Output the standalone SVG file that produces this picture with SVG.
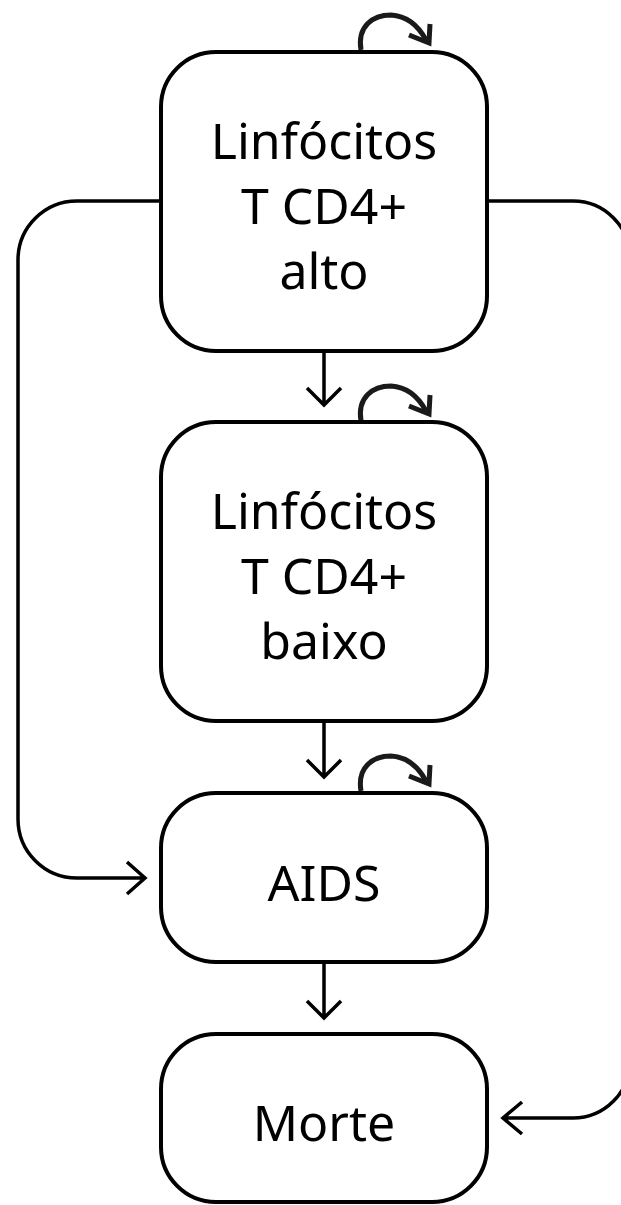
<svg xmlns="http://www.w3.org/2000/svg" width="621" height="1205" viewBox="0 0 621 1205">
<style>
.box{fill:#fff;stroke:#000;stroke-width:4}
.lbl{font-family:"Noto Sans","Open Sans",sans-serif;font-size:50px;fill:#000;text-anchor:middle}
.con{fill:none;stroke:#000;stroke-width:3.5;stroke-linejoin:miter}
.loop{fill:none;stroke:#1a1a1a;stroke-width:5;stroke-linecap:butt}
</style>
<defs>
<g id="selfloop">
<path class="loop" d="M361,50 C357,26 373,15 391,15 C408,16 419,27 426,40"/>
<path class="loop" d="M409,35 L429,43 L430,24" stroke-linejoin="miter"/>
</g>
</defs>
<g id="connectors">
<path class="con" d="M324,351 V405 M307,388 L324,405 L341,388"/>
<path class="con" d="M324,721 V777 M307,760 L324,777 L341,760"/>
<path class="con" d="M324,962 V1018 M307,1001 L324,1018 L341,1001"/>
<path class="con" d="M161,201 H77 A59,59 0 0 0 18,260 V819 A59,59 0 0 0 77,878 H145 M127,862 L145,878 L127,894"/>
<path class="con" d="M487,201 H573 A57,57 0 0 1 630,258 V1061 A57,57 0 0 1 573,1118 H503 M522,1102 L503,1118 L522,1134"/>
<use href="#selfloop"/>
<use href="#selfloop" transform="translate(0,371)"/>
<use href="#selfloop" transform="translate(0,741)"/>
</g>
<g id="node-alto">
<rect class="box" x="161" y="52" width="326" height="299" rx="55"/>
<text class="lbl" x="324" y="159">Linfócitos</text>
<text class="lbl" x="324" y="224">T CD4+</text>
<text class="lbl" x="324" y="289">alto</text>
</g>
<g id="node-baixo">
<rect class="box" x="161" y="422" width="326" height="299" rx="55"/>
<text class="lbl" x="324" y="529">Linfócitos</text>
<text class="lbl" x="324" y="594">T CD4+</text>
<text class="lbl" x="324" y="659">baixo</text>
</g>
<g id="node-aids">
<rect class="box" x="161" y="793" width="326" height="169" rx="55"/>
<text class="lbl" x="324" y="901">AIDS</text>
</g>
<g id="node-morte">
<rect class="box" x="161" y="1034" width="326" height="168" rx="55"/>
<text class="lbl" x="324" y="1141">Morte</text>
</g>
</svg>
